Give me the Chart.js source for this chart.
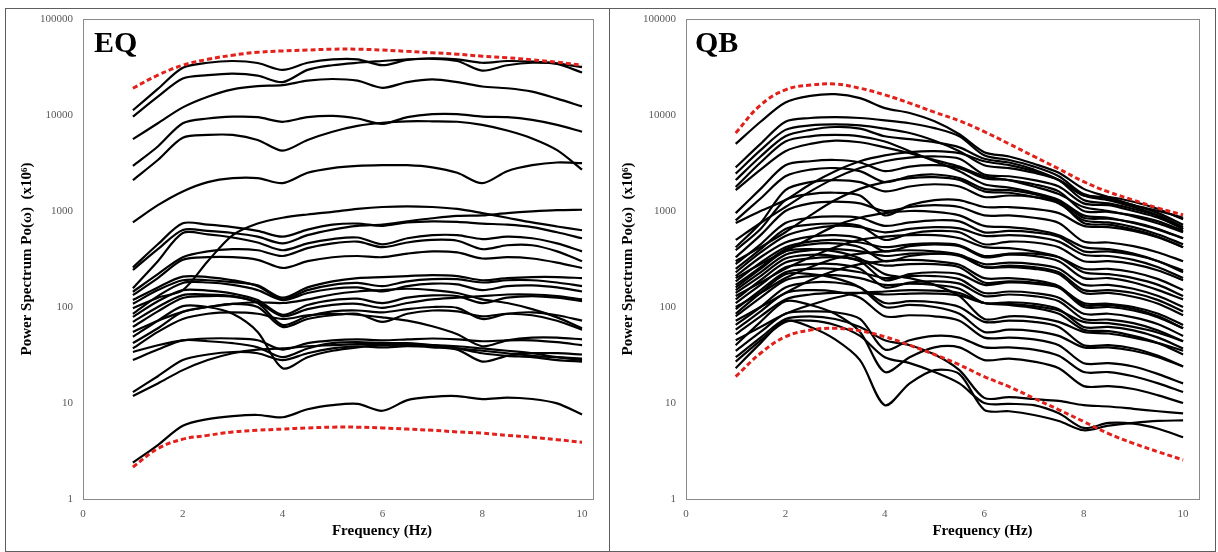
<!DOCTYPE html>
<html>
<head>
<meta charset="utf-8">
<title>Power spectra EQ / QB</title>
<script src="https://cdn.jsdelivr.net/npm/chart.js@4.4.1/dist/chart.umd.min.js"></script>
<style>
  html, body { margin: 0; padding: 0; background: #ffffff; }
  body { width: 1218px; height: 552px; position: relative; overflow: hidden; }
  .frame { position: absolute; border: 1px solid #5e5e5e; box-sizing: border-box; }
  .panel { position: absolute; }
  canvas { display: block; }
</style>
</head>
<body>
<div class="frame" style="left:5px;top:8px;width:605px;height:544px"></div>
<div class="frame" style="left:609px;top:8px;width:607px;height:544px"></div>
<div class="panel" style="left:6px;top:9px"><canvas id="eqChart" width="603" height="540"></canvas></div>
<div class="panel" style="left:610px;top:9px"><canvas id="qbChart" width="604" height="540"></canvas></div>

<script>
// Frequencies (Hz) at which every spectrum is sampled
const freqHz = [1, 1.5, 2, 2.5, 3, 3.5, 4, 4.5, 5, 5.5, 6, 6.5, 7, 7.5, 8, 8.5, 9, 9.5, 10];

// Axis ticks
const xTickValues = [0, 2, 4, 6, 8, 10];
const yTickValues = [1, 10, 100, 1000, 10000, 100000];

// EQ records: power spectrum Po(w) (x10^6)
const eqSpectra = [
  [11200, 18700, 31000, 35000, 36500, 34800, 29500, 35000, 38000, 38000, 33000, 37500, 39000, 38000, 35000, 36500, 36000, 34500, 31500],
  [9600, 15500, 24000, 26000, 27000, 25700, 22000, 29500, 33000, 35000, 36500, 38000, 38500, 36500, 29000, 33000, 35000, 34000, 27700],
  [5600, 8200, 12000, 15500, 18500, 20000, 20500, 22800, 23700, 22800, 19200, 22000, 23500, 22000, 19800, 19000, 17500, 14800, 12300],
  [2950, 4700, 8200, 9200, 9600, 9500, 8500, 9500, 9800, 9200, 8100, 9500, 10200, 10200, 9600, 9500, 8900, 7900, 6700],
  [2100, 3400, 5800, 6200, 6200, 5500, 4250, 5500, 6700, 7700, 8300, 8600, 8600, 8500, 7900, 6900, 5700, 4300, 2700],
  [760, 1150, 1600, 2000, 2200, 2200, 1950, 2500, 2800, 2950, 3000, 3000, 2850, 2500, 1950, 2600, 3000, 3200, 3150],
  [97, 125, 150, 300, 560, 740, 850, 920, 980, 1050, 1100, 1120, 1100, 1050, 950, 850, 760, 690, 630],
  [243, 400, 635, 620, 590, 540, 460, 560, 640, 700, 720, 780, 840, 890, 900, 950, 990, 1020, 1030],
  [258, 450, 745, 720, 680, 620, 540, 640, 720, 740, 700, 760, 780, 770, 740, 720, 680, 600, 520],
  [157, 300, 590, 570, 530, 470, 390, 460, 510, 530, 450, 520, 560, 560, 510, 540, 520, 460, 380],
  [144, 220, 330, 380, 400, 390, 340, 410, 460, 480, 420, 470, 500, 490, 400, 440, 440, 380, 300],
  [133, 200, 310, 330, 330, 310, 255, 300, 330, 340, 330, 360, 380, 370, 320, 330, 320, 290, 255],
  [118, 160, 207, 205, 190, 165, 120, 150, 170, 178, 165, 185, 195, 195, 180, 190, 190, 180, 165],
  [85, 130, 178, 180, 170, 150, 118, 140, 155, 160, 145, 165, 175, 172, 150, 165, 168, 160, 145],
  [108, 150, 190, 190, 182, 168, 125, 160, 185, 200, 205, 210, 215, 210, 190, 200, 205, 205, 200],
  [79, 115, 150, 148, 138, 118, 83, 105, 118, 122, 110, 125, 132, 130, 110, 125, 130, 125, 115],
  [70, 100, 133, 135, 130, 112, 80, 95, 105, 108, 98, 110, 120, 125, 130, 135, 135, 130, 120],
  [62, 90, 124, 130, 128, 110, 65, 80, 90, 92, 88, 95, 100, 98, 75, 85, 88, 82, 72],
  [55, 72, 89, 100, 108, 100, 62, 75, 82, 85, 70, 85, 92, 90, 80, 85, 82, 72, 58],
  [42, 60, 89, 100, 108, 112, 110, 120, 135, 145, 150, 155, 150, 140, 120, 110, 95, 78, 60],
  [37, 55, 75, 85, 88, 85, 75, 82, 85, 83, 78, 72, 63, 52, 39, 45, 48, 48, 46],
  [49, 72, 102, 100, 85, 55, 23, 30, 35, 38, 40, 40, 40, 39, 37, 35, 33, 30, 28],
  [34, 40, 45, 47, 47, 45, 36, 42, 45, 46, 45, 46, 47, 46, 44, 45, 45, 43, 40],
  [28, 36, 45, 44, 42, 38, 30, 37, 42, 43, 42, 42, 40, 37, 33, 31, 30, 28, 27],
  [13, 19, 28, 32, 34, 33, 28, 33, 37, 39, 38, 39, 38, 36, 27, 31, 33, 33, 32],
  [11.8, 16, 22, 28, 33, 36, 37, 39, 40, 41, 41, 40, 39, 37, 35, 33, 31, 30, 29],
  [2.39, 3.65, 5.8, 6.8, 7.3, 7.5, 7.1, 8.6, 9.5, 9.8, 8.3, 10.7, 11.6, 11.8, 11, 11.4, 11, 9.9, 7.6]
];
const eqUpperBound = [19000, 26000, 33000, 38000, 42000, 45000, 46500, 47500, 48500, 48500, 47500, 46000, 44500, 43000, 41000, 39500, 37500, 35500, 33000];
const eqLowerBound = [2.15, 3.35, 4.2, 4.6, 5.0, 5.2, 5.35, 5.5, 5.6, 5.6, 5.5, 5.35, 5.2, 5.0, 4.85, 4.6, 4.4, 4.15, 3.9];

// QB records: power spectrum Po(w) (x10^6)
const qbSpectra = [
  [5000, 8500, 13500, 15800, 16500, 15000, 11800, 10500, 8600, 6300, 4100, 3700, 3100, 2500, 1700, 1400, 1150, 1000, 850],
  [2850, 5000, 8500, 9300, 9500, 9300, 8800, 8200, 7300, 6000, 3800, 3400, 2900, 2300, 1500, 1350, 1150, 950, 720],
  [2450, 4300, 7000, 7800, 8000, 7800, 7200, 6500, 5400, 4200, 3000, 2800, 2500, 2100, 1450, 1300, 1100, 900, 680],
  [2100, 3700, 6000, 7000, 7500, 7200, 6000, 5600, 5200, 4600, 3500, 3200, 2700, 2100, 1300, 1200, 1050, 880, 650],
  [1780, 3200, 5300, 6000, 6200, 6000, 5300, 4200, 3300, 2600, 1900, 1750, 1550, 1300, 900, 850, 750, 640, 520],
  [1650, 2700, 4200, 5000, 5400, 5200, 4600, 4000, 3400, 2900, 2300, 2100, 1800, 1500, 1100, 1000, 880, 740, 600],
  [950, 1700, 3000, 3300, 3400, 3200, 2600, 2900, 3000, 2800, 2200, 2100, 1900, 1600, 1000, 980, 900, 780, 620],
  [800, 1350, 2300, 2700, 2800, 2600, 2000, 2300, 2400, 2200, 1700, 1650, 1500, 1250, 750, 720, 640, 540, 420],
  [750, 1000, 1300, 1900, 2600, 3300, 3800, 4100, 4200, 4000, 3300, 3000, 2600, 2100, 1450, 1400, 1250, 1050, 820],
  [500, 750, 1100, 1600, 2200, 2800, 3300, 3600, 3700, 3500, 2400, 2300, 2100, 1800, 1200, 1150, 1000, 850, 650],
  [420, 750, 1650, 2000, 2100, 2000, 1600, 1800, 1900, 1800, 1400, 1450, 1400, 1250, 850, 830, 760, 650, 520],
  [390, 650, 1300, 1500, 1550, 1450, 900, 1150, 1300, 1300, 1100, 1100, 1050, 950, 700, 680, 620, 530, 420],
  [330, 560, 1000, 1200, 1250, 1200, 1000, 1100, 1150, 1100, 900, 900, 850, 750, 480, 470, 430, 370, 300],
  [300, 420, 600, 900, 1300, 1700, 2000, 2200, 2250, 2100, 1600, 1550, 1400, 1200, 800, 760, 680, 570, 450],
  [280, 450, 750, 850, 880, 850, 700, 760, 800, 780, 600, 620, 600, 540, 380, 380, 350, 300, 240],
  [250, 400, 650, 720, 740, 700, 500, 580, 620, 600, 450, 480, 470, 420, 300, 300, 280, 240, 190],
  [230, 370, 550, 650, 700, 680, 600, 650, 680, 660, 550, 560, 540, 480, 350, 340, 310, 260, 200],
  [210, 330, 470, 540, 560, 520, 380, 430, 450, 430, 330, 350, 340, 300, 200, 200, 180, 150, 120],
  [200, 280, 380, 520, 700, 850, 950, 1000, 980, 900, 700, 680, 640, 560, 420, 400, 360, 300, 230],
  [185, 290, 420, 480, 500, 470, 420, 450, 460, 440, 340, 360, 360, 330, 250, 250, 230, 195, 150],
  [170, 260, 400, 450, 460, 420, 300, 340, 360, 350, 280, 290, 280, 250, 170, 170, 155, 130, 100],
  [160, 250, 380, 400, 380, 320, 220, 200, 170, 130, 75, 80, 78, 70, 55, 53, 48, 42, 35],
  [150, 230, 350, 390, 400, 380, 340, 360, 360, 340, 260, 270, 260, 230, 150, 150, 140, 118, 90],
  [140, 210, 320, 350, 340, 300, 190, 220, 230, 220, 170, 180, 175, 160, 110, 108, 100, 85, 65],
  [130, 180, 250, 330, 420, 500, 540, 560, 560, 520, 420, 410, 380, 330, 230, 220, 200, 170, 130],
  [120, 190, 290, 320, 330, 310, 270, 280, 280, 260, 180, 185, 180, 160, 100, 100, 92, 78, 60],
  [110, 170, 260, 280, 280, 250, 160, 180, 185, 175, 130, 135, 130, 115, 75, 74, 68, 57, 44],
  [100, 140, 200, 260, 320, 360, 380, 390, 380, 350, 260, 260, 250, 220, 140, 140, 128, 108, 82],
  [95, 150, 230, 250, 250, 230, 200, 210, 210, 195, 140, 145, 140, 125, 85, 85, 78, 66, 50],
  [85, 140, 220, 220, 200, 160, 100, 105, 100, 85, 55, 58, 56, 50, 38, 38, 35, 30, 24],
  [80, 125, 190, 210, 215, 200, 170, 175, 170, 155, 110, 112, 108, 95, 62, 62, 57, 48, 37],
  [72, 100, 140, 190, 240, 280, 300, 310, 300, 275, 200, 200, 190, 165, 105, 105, 96, 80, 60],
  [65, 100, 160, 180, 180, 160, 110, 115, 112, 100, 70, 72, 70, 62, 40, 40, 37, 31, 24],
  [58, 90, 140, 150, 145, 125, 80, 82, 80, 72, 48, 48, 46, 40, 26, 26, 24, 20, 16],
  [52, 80, 120, 135, 140, 140, 135, 138, 138, 132, 110, 108, 102, 92, 70, 68, 62, 54, 44],
  [45, 62, 85, 105, 125, 140, 145, 150, 148, 140, 110, 105, 98, 85, 58, 56, 50, 42, 32],
  [40, 70, 115, 105, 85, 55, 21, 30, 38, 38, 28, 29, 27, 23, 15, 15, 14, 12, 10],
  [35, 55, 85, 90, 88, 75, 36, 45, 50, 48, 38, 38, 36, 31, 21, 21, 19, 16, 13],
  [30, 48, 75, 80, 75, 62, 45, 40, 32, 22, 11.3, 11.5, 11, 10.5, 9.5, 9.2, 8.7, 8.2, 7.8],
  [23, 42, 72, 62, 46, 28, 9.5, 16, 22, 20, 8.5, 8.2, 7.5, 6.5, 5.2, 5.8, 6.2, 6.5, 6.6],
  [27, 45, 70, 72, 65, 50, 30, 26, 21, 16, 10, 9.8, 9.5, 7.8, 5.5, 6.2, 6.1, 5.4, 4.4]
];
const qbUpperBound = [6500, 12700, 18300, 20500, 21000, 19000, 16200, 13300, 10700, 8700, 6700, 5000, 3700, 2750, 2020, 1580, 1300, 1070, 910];
const qbLowerBound = [18.8, 33, 49, 57.5, 60, 56.5, 49, 40, 32, 25, 18.8, 14.8, 11.2, 8.5, 6.4, 4.8, 3.8, 3.1, 2.55];

const SERIF = '"Liberation Serif", "Times New Roman", "DejaVu Serif", serif';

function toPoints(values) {
  return freqHz.map((f, i) => ({ x: f, y: values[i] }));
}

// Plot-area frame, panel tag and frequency axis caption
const panelDecor = {
  id: 'panelDecor',
  afterDraw(chart, args, opts) {
    const { ctx, chartArea: a } = chart;
    ctx.save();
    ctx.strokeStyle = '#8a8a8a';
    ctx.lineWidth = 1;
    ctx.strokeRect(Math.round(a.left) + 0.5, Math.round(a.top) + 0.5,
                   Math.round(a.right - a.left), Math.round(a.bottom - a.top));
    ctx.fillStyle = '#000';
    ctx.textBaseline = 'alphabetic';
    ctx.textAlign = 'left';
    ctx.font = 'bold 30px ' + SERIF;
    ctx.fillText(opts.tag, a.left + opts.tagDx, a.top + opts.tagDy);
    ctx.textAlign = 'center';
    ctx.font = 'bold 15px ' + SERIF;
    ctx.fillText('Frequency (Hz)', (a.left + a.right) / 2 + opts.captionDx, opts.captionY);
    ctx.restore();
  }
};

function buildPanel(canvasId, spectra, upper, lower, cfg) {
  const datasets = spectra.map(vals => ({
    data: toPoints(vals),
    borderColor: '#000000',
    borderWidth: 2.2,
    pointRadius: 0,
    tension: 0.3,
    fill: false
  }));
  [upper, lower].forEach(vals => datasets.push({
    data: toPoints(vals),
    borderColor: '#e3211c',
    borderWidth: 3,
    borderDash: [5, 3],
    pointRadius: 0,
    tension: 0.4,
    fill: false,
    order: -1
  }));

  return new Chart(document.getElementById(canvasId), {
    type: 'line',
    data: { datasets },
    plugins: [panelDecor],
    options: {
      responsive: false,
      animation: false,
      devicePixelRatio: 1,
      layout: { padding: { top: 10, right: cfg.padRight, bottom: 0, left: 0 } },
      plugins: {
        legend: { display: false },
        tooltip: { enabled: false },
        panelDecor: cfg.decor
      },
      scales: {
        x: {
          type: 'linear',
          min: 0,
          max: cfg.xMax,
          grid: { display: false, drawTicks: false },
          border: { display: false },
          afterBuildTicks: s => { s.ticks = xTickValues.map(v => ({ value: v })); },
          afterFit: s => { s.height = 50; s.paddingLeft = 0; s.paddingRight = 0; },
          ticks: {
            includeBounds: false,
            padding: 9,
            maxRotation: 0,
            color: '#595959',
            font: { family: SERIF, size: 11 },
            callback: v => String(v)
          }
        },
        y: {
          type: 'logarithmic',
          min: 1,
          max: 100000,
          grid: { display: false, drawTicks: false },
          border: { display: false },
          afterBuildTicks: s => { s.ticks = yTickValues.map(v => ({ value: v })); },
          afterFit: s => { s.width = cfg.yWidth; s.paddingTop = 0; s.paddingBottom = 0; },
          ticks: {
            padding: 10,
            color: '#595959',
            font: { family: SERIF, size: 11 },
            callback: v => String(v)
          },
          title: {
            display: true,
            text: 'Power Spectrum Po(ω)  (x10⁶)',
            color: '#000',
            font: { family: SERIF, size: 15, weight: 'bold' },
            padding: { top: cfg.yTitlePad, bottom: 0 }
          }
        }
      }
    }
  });
}

buildPanel('eqChart', eqSpectra, eqUpperBound, eqLowerBound, {
  padRight: 16, xMax: 10.22, yWidth: 77, yTitlePad: 12,
  decor: { tag: 'EQ', tagDx: 11, tagDy: 33, captionDx: 44, captionY: 526 }
});
buildPanel('qbChart', qbSpectra, qbUpperBound, qbLowerBound, {
  padRight: 15, xMax: 10.32, yWidth: 76, yTitlePad: 9,
  decor: { tag: 'QB', tagDx: 9, tagDy: 33, captionDx: 40, captionY: 526 }
});
</script>
</body>
</html>
